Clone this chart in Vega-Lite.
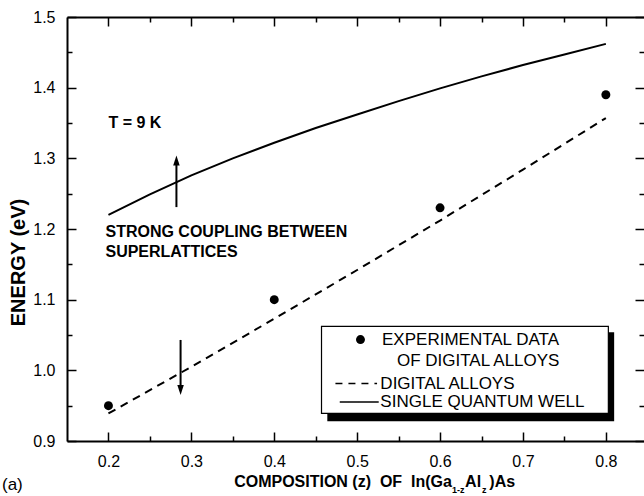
{
  "$schema": "https://vega.github.io/schema/vega-lite/v6.json",
  "width": 577,
  "height": 424,
  "autosize": "none",
  "padding": {"left": 67, "top": 17, "right": 0, "bottom": 55},
  "background": "white",
  "config": {
    "view": {"stroke": null},
    "axis": {
      "domainColor": "black", "domainWidth": 2, "tickColor": "black", "tickWidth": 1.5,
      "labelColor": "black", "labelFont": "Liberation Sans", "labelFontSize": 16,
      "grid": false, "titleColor": "black", "titleFont": "Liberation Sans"
    }
  },
  "datasets": {
    "qw": [
      {"z": 0.2, "E": 1.220}, {"z": 0.25, "E": 1.249}, {"z": 0.3, "E": 1.276}, {"z": 0.35, "E": 1.300},
      {"z": 0.4, "E": 1.322}, {"z": 0.45, "E": 1.343}, {"z": 0.5, "E": 1.362}, {"z": 0.55, "E": 1.381},
      {"z": 0.6, "E": 1.399}, {"z": 0.65, "E": 1.416}, {"z": 0.7, "E": 1.432}, {"z": 0.75, "E": 1.447},
      {"z": 0.8, "E": 1.462}
    ],
    "da": [
      {"z": 0.2, "E": 0.939}, {"z": 0.3, "E": 1.005}, {"z": 0.4, "E": 1.073}, {"z": 0.5, "E": 1.142},
      {"z": 0.6, "E": 1.212}, {"z": 0.7, "E": 1.284}, {"z": 0.8, "E": 1.357}
    ],
    "exp": [
      {"z": 0.2, "E": 0.950}, {"z": 0.4, "E": 1.100}, {"z": 0.6, "E": 1.230}, {"z": 0.8, "E": 1.390}
    ],
    "arrows": [
      {"z": 0.282, "from": 1.231, "to": 1.297, "dir": "up"},
      {"z": 0.287, "from": 1.043, "to": 0.972, "dir": "down"}
    ],
    "box": [{"x1": 0.457, "x2": 0.803, "y1": 0.9392, "y2": 1.0623}],
    "shadow": [{"x1": 0.464, "x2": 0.810, "y1": 0.928, "y2": 1.054}],
    "legendLines": [
      {"x1": 0.4738, "x2": 0.524, "y": 0.9813, "series": "DIGITAL ALLOYS"},
      {"x1": 0.479, "x2": 0.526, "y": 0.9553, "series": "SINGLE QUANTUM WELL"}
    ],
    "legendDot": [{"x": 0.504, "y": 1.0435}],
    "legendText": [
      {"x": 0.530, "y": 1.0435, "t": "EXPERIMENTAL DATA"},
      {"x": 0.548, "y": 1.0133, "t": "OF DIGITAL ALLOYS"},
      {"x": 0.528, "y": 0.9813, "t": "DIGITAL ALLOYS"},
      {"x": 0.528, "y": 0.9553, "t": "SINGLE QUANTUM WELL"}
    ],
    "notes": [
      {"x": 0.2, "y": 1.35, "t": "T = 9 K"},
      {"x": 0.1964, "y": 1.196, "t": "STRONG COUPLING BETWEEN"},
      {"x": 0.1964, "y": 1.1675, "t": "SUPERLATTICES"}
    ],
    "titleMain": [{"x": 0.6143, "y": 0.8345, "t": "COMPOSITION (z)\u00a0\u00a0OF\u00a0\u00a0In(Ga"}],
    "titleRest": [
      {"x": 0.6302, "y": 0.8345, "t": "Al"},
      {"x": 0.6594, "y": 0.8345, "t": ")As"}
    ],
    "titleSub": [
      {"x": 0.6143, "y": 0.826, "t": "1-z"},
      {"x": 0.6505, "y": 0.826, "t": "z"}
    ],
    "panel": [{"x": 0.0716, "y": 0.8303, "t": "(a)"}]
  },
  "layer": [
    {
      "data": {"name": "qw"},
      "mark": {"type": "line", "color": "black", "strokeWidth": 2},
      "encoding": {
        "x": {"field": "z", "type": "quantitative", "scale": {"domain": [0.15, 0.846], "nice": false, "zero": false},
              "axis": {"orient": "bottom", "values": [0.2, 0.3, 0.4, 0.5, 0.6, 0.7, 0.8], "format": ".1f", "tickSize": -9, "labelPadding": 21, "title": null}},
        "y": {"field": "E", "type": "quantitative", "scale": {"domain": [0.9, 1.5], "nice": false, "zero": false},
              "axis": {"orient": "left", "values": [0.9, 1.0, 1.1, 1.2, 1.3, 1.4, 1.5], "format": ".1f", "tickSize": -9, "labelPadding": 21,
                       "title": "ENERGY (eV)", "titleFontSize": 20, "titleFontWeight": "bold", "titleX": -43, "titleY": 245,
                       "titleAlign": "center", "titleBaseline": "alphabetic", "titleAngle": 270}}
      }
    },
    {
      "data": {"name": "da"},
      "mark": {"type": "line", "color": "black", "strokeWidth": 2, "strokeDash": [8, 6]},
      "encoding": {
        "x": {"field": "z", "type": "quantitative", "scale": {"domain": [0.15, 0.846], "nice": false, "zero": false},
              "axis": {"orient": "bottom", "values": [0.25, 0.35, 0.45, 0.55, 0.65, 0.75], "labels": false, "domain": false, "tickSize": -5, "title": null}},
        "y": {"field": "E", "type": "quantitative", "scale": {"domain": [0.9, 1.5], "nice": false, "zero": false},
              "axis": {"orient": "left", "values": [0.95, 1.05, 1.15, 1.25, 1.35, 1.45], "labels": false, "domain": false, "tickSize": -5, "title": null}}
      }
    },
    {
      "data": {"name": "exp"},
      "mark": {"type": "point", "shape": "circle", "filled": true, "color": "black", "size": 80, "opacity": 1},
      "encoding": {
        "x": {"field": "z", "type": "quantitative", "scale": {"domain": [0.15, 0.846], "nice": false, "zero": false},
              "axis": {"orient": "top", "values": [0.2, 0.3, 0.4, 0.5, 0.6, 0.7, 0.8], "labels": false, "tickSize": -9, "title": null}},
        "y": {"field": "E", "type": "quantitative", "scale": {"domain": [0.9, 1.5], "nice": false, "zero": false},
              "axis": {"orient": "right", "values": [0.9, 1.0, 1.1, 1.2, 1.3, 1.4, 1.5], "labels": false, "domain": false, "tickSize": -9, "title": null}}
      }
    },
    {
      "data": {"name": "arrows"},
      "mark": {"type": "rule", "color": "black", "strokeWidth": 2},
      "encoding": {
        "x": {"field": "z", "type": "quantitative", "scale": {"domain": [0.15, 0.846], "nice": false, "zero": false},
              "axis": {"orient": "top", "values": [0.25, 0.35, 0.45, 0.55, 0.65, 0.75], "labels": false, "domain": false, "tickSize": -5, "title": null}},
        "y": {"field": "from", "type": "quantitative", "scale": {"domain": [0.9, 1.5], "nice": false, "zero": false},
              "axis": {"orient": "right", "values": [0.95, 1.05, 1.15, 1.25, 1.35, 1.45], "labels": false, "domain": false, "tickSize": -5, "title": null}},
        "y2": {"field": "to"}
      }
    },
    {
      "data": {"name": "arrows"},
      "mark": {"type": "point", "filled": true, "color": "black", "size": 100, "opacity": 1, "strokeWidth": 0},
      "encoding": {
        "x": {"field": "z", "type": "quantitative", "scale": {"domain": [0.15, 0.846], "nice": false, "zero": false}, "axis": null},
        "y": {"field": "to", "type": "quantitative", "scale": {"domain": [0.9, 1.5], "nice": false, "zero": false}, "axis": null},
        "shape": {"field": "dir", "type": "nominal", "legend": null,
                  "scale": {"domain": ["up", "down"], "range": ["M0,-1L0.65,1L-0.65,1Z", "M0,1L0.65,-1L-0.65,-1Z"]}}
      }
    },
    {
      "data": {"name": "shadow"},
      "mark": {"type": "rect", "color": "black"},
      "encoding": {
        "x": {"field": "x1", "type": "quantitative", "scale": {"domain": [0.15, 0.846], "nice": false, "zero": false}, "axis": null},
        "x2": {"field": "x2"},
        "y": {"field": "y1", "type": "quantitative", "scale": {"domain": [0.9, 1.5], "nice": false, "zero": false}, "axis": null},
        "y2": {"field": "y2"}
      }
    },
    {
      "data": {"name": "box"},
      "mark": {"type": "rect", "fill": "white", "stroke": "black", "strokeWidth": 1.2},
      "encoding": {
        "x": {"field": "x1", "type": "quantitative", "scale": {"domain": [0.15, 0.846], "nice": false, "zero": false}, "axis": null},
        "x2": {"field": "x2"},
        "y": {"field": "y1", "type": "quantitative", "scale": {"domain": [0.9, 1.5], "nice": false, "zero": false}, "axis": null},
        "y2": {"field": "y2"}
      }
    },
    {
      "data": {"name": "legendLines"},
      "mark": {"type": "rule", "color": "black", "strokeWidth": 1.5},
      "encoding": {
        "x": {"field": "x1", "type": "quantitative", "scale": {"domain": [0.15, 0.846], "nice": false, "zero": false}, "axis": null},
        "x2": {"field": "x2"},
        "y": {"field": "y", "type": "quantitative", "scale": {"domain": [0.9, 1.5], "nice": false, "zero": false}, "axis": null},
        "strokeDash": {"field": "series", "type": "nominal", "legend": null,
                       "scale": {"domain": ["DIGITAL ALLOYS", "SINGLE QUANTUM WELL"], "range": [[7, 6], [1, 0]]}}
      }
    },
    {
      "data": {"name": "legendDot"},
      "mark": {"type": "point", "shape": "circle", "filled": true, "color": "black", "size": 80, "opacity": 1},
      "encoding": {
        "x": {"field": "x", "type": "quantitative", "scale": {"domain": [0.15, 0.846], "nice": false, "zero": false}, "axis": null},
        "y": {"field": "y", "type": "quantitative", "scale": {"domain": [0.9, 1.5], "nice": false, "zero": false}, "axis": null}
      }
    },
    {
      "data": {"name": "legendText"},
      "mark": {"type": "text", "align": "left", "baseline": "middle", "font": "Liberation Sans", "fontSize": 17, "color": "black"},
      "encoding": {
        "x": {"field": "x", "type": "quantitative", "scale": {"domain": [0.15, 0.846], "nice": false, "zero": false}, "axis": null},
        "y": {"field": "y", "type": "quantitative", "scale": {"domain": [0.9, 1.5], "nice": false, "zero": false}, "axis": null},
        "text": {"field": "t"}
      }
    },
    {
      "data": {"name": "notes"},
      "mark": {"type": "text", "align": "left", "baseline": "middle", "font": "Liberation Sans", "fontSize": 16, "fontWeight": "bold", "color": "black"},
      "encoding": {
        "x": {"field": "x", "type": "quantitative", "scale": {"domain": [0.15, 0.846], "nice": false, "zero": false}, "axis": null},
        "y": {"field": "y", "type": "quantitative", "scale": {"domain": [0.9, 1.5], "nice": false, "zero": false}, "axis": null},
        "text": {"field": "t"}
      }
    },
    {
      "data": {"name": "titleMain"},
      "mark": {"type": "text", "align": "right", "baseline": "alphabetic", "font": "Liberation Sans", "fontSize": 16, "fontWeight": "bold", "color": "black"},
      "encoding": {
        "x": {"field": "x", "type": "quantitative", "scale": {"domain": [0.15, 0.846], "nice": false, "zero": false}, "axis": null},
        "y": {"field": "y", "type": "quantitative", "scale": {"domain": [0.9, 1.5], "nice": false, "zero": false}, "axis": null},
        "text": {"field": "t"}
      }
    },
    {
      "data": {"name": "titleRest"},
      "mark": {"type": "text", "align": "left", "baseline": "alphabetic", "font": "Liberation Sans", "fontSize": 16, "fontWeight": "bold", "color": "black"},
      "encoding": {
        "x": {"field": "x", "type": "quantitative", "scale": {"domain": [0.15, 0.846], "nice": false, "zero": false}, "axis": null},
        "y": {"field": "y", "type": "quantitative", "scale": {"domain": [0.9, 1.5], "nice": false, "zero": false}, "axis": null},
        "text": {"field": "t"}
      }
    },
    {
      "data": {"name": "titleSub"},
      "mark": {"type": "text", "align": "left", "baseline": "alphabetic", "font": "Liberation Sans", "fontSize": 9, "fontWeight": "bold", "color": "black"},
      "encoding": {
        "x": {"field": "x", "type": "quantitative", "scale": {"domain": [0.15, 0.846], "nice": false, "zero": false}, "axis": null},
        "y": {"field": "y", "type": "quantitative", "scale": {"domain": [0.9, 1.5], "nice": false, "zero": false}, "axis": null},
        "text": {"field": "t"}
      }
    },
    {
      "data": {"name": "panel"},
      "mark": {"type": "text", "align": "left", "baseline": "alphabetic", "font": "Liberation Sans", "fontSize": 17, "color": "black"},
      "encoding": {
        "x": {"field": "x", "type": "quantitative", "scale": {"domain": [0.15, 0.846], "nice": false, "zero": false}, "axis": null},
        "y": {"field": "y", "type": "quantitative", "scale": {"domain": [0.9, 1.5], "nice": false, "zero": false}, "axis": null},
        "text": {"field": "t"}
      }
    }
  ],
  "resolve": {"axis": {"x": "independent", "y": "independent"}}
}
